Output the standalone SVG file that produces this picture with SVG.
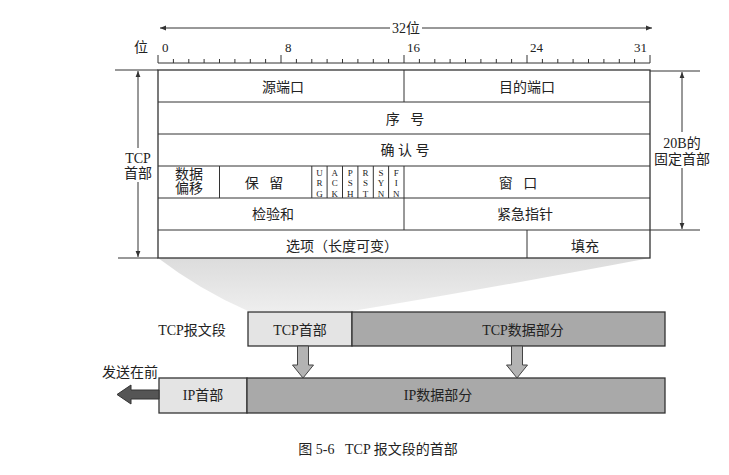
<svg xmlns="http://www.w3.org/2000/svg" width="729" height="475" viewBox="0 0 729 475">
<style>
.t{font-family:"Liberation Serif","Noto Sans CJK SC",serif;font-size:14px;fill:#222;text-anchor:middle}
.n{font-family:"Liberation Serif",serif;font-size:13px;fill:#222}
.f{font-family:"Liberation Serif",serif;font-size:9px;fill:#222;text-anchor:middle}
.ln{stroke:#333;stroke-width:1;fill:none}
.bx{stroke:#333;stroke-width:1.3}
</style>
<defs>
<marker id="ah" viewBox="0 0 10 10" refX="10" refY="5" markerWidth="8" markerHeight="6" orient="auto-start-reverse" markerUnits="userSpaceOnUse"><path d="M0,1 L10,5 L0,9 z" fill="#333"/></marker>
<linearGradient id="fan" x1="0" y1="0" x2="0" y2="1"><stop offset="0" stop-color="#dcdcdc"/><stop offset="1" stop-color="#eeeeee"/></linearGradient>
</defs>
<rect width="729" height="475" fill="#fff"/>

<g id="fan-shape">
<path d="M158,258 L650,258 Q480,290 352,311 L248,311 Q200,290 158,258 z" fill="url(#fan)"/>
</g>

<g id="ruler">
<line class="ln" x1="158" y1="63" x2="650" y2="63"/>
<path class="ln" d="M158,55V63M173.4,59V63M188.8,59V63M204.1,59V63M219.5,59V63M234.9,59V63M250.3,59V63M265.6,59V63M281,55V63M296.4,59V63M311.8,59V63M327.1,59V63M342.5,59V63M357.9,59V63M373.3,59V63M388.6,59V63M404,55V63M419.4,59V63M434.8,59V63M450.1,59V63M465.5,59V63M480.9,59V63M496.3,59V63M511.6,59V63M527,55V63M542.4,59V63M557.8,59V63M573.1,59V63M588.5,59V63M603.9,59V63M619.3,59V63M634.6,59V63M650,55V63"/>
<text class="t" x="141" y="52">位</text>
<text class="n" x="162" y="52">0</text>
<text class="n" x="285" y="52">8</text>
<text class="n" x="407" y="52">16</text>
<text class="n" x="530" y="52">24</text>
<text class="n" x="647" y="52" text-anchor="end">31</text>
<line class="ln" x1="390" y1="28" x2="160" y2="28" marker-end="url(#ah)"/>
<line class="ln" x1="422" y1="28" x2="652" y2="28" marker-end="url(#ah)"/>
<text class="t" x="406" y="33">32位</text>
</g>

<g id="header-table">
<rect class="bx" x="158" y="70" width="492" height="188" fill="#fff"/>
<path class="ln" d="M158,102H650M158,134H650M158,166H650M158,198H650M158,230H650M404,70V102M404,166V230M527,230V258M219.5,166V198M311.8,166V198M327.1,166V198M342.5,166V198M357.9,166V198M373.3,166V198M388.6,166V198"/>
<text class="t" x="283" y="92">源端口</text>
<text class="t" x="527" y="92">目的端口</text>
<text class="t" x="405" y="124" xml:space="preserve">序   号</text>
<text class="t" x="405" y="155" xml:space="preserve">确 认 号</text>
<text class="t" x="189" y="179">数据</text>
<text class="t" x="189" y="193">偏移</text>
<text class="t" x="264" y="188" xml:space="preserve">保   留</text>
<g class="f">
<text x="319.4" y="175.5">U</text><text x="319.4" y="186">R</text><text x="319.4" y="196.5">G</text>
<text x="334.8" y="175.5">A</text><text x="334.8" y="186">C</text><text x="334.8" y="196.5">K</text>
<text x="350.2" y="175.5">P</text><text x="350.2" y="186">S</text><text x="350.2" y="196.5">H</text>
<text x="365.6" y="175.5">R</text><text x="365.6" y="186">S</text><text x="365.6" y="196.5">T</text>
<text x="381" y="175.5">S</text><text x="381" y="186">Y</text><text x="381" y="196.5">N</text>
<text x="396.3" y="175.5">F</text><text x="396.3" y="186">I</text><text x="396.3" y="196.5">N</text>
</g>
<text class="t" x="518" y="188" xml:space="preserve">窗   口</text>
<text class="t" x="273" y="219">检验和</text>
<text class="t" x="525" y="219">紧急指针</text>
<text class="t" x="342" y="251">选项（长度可变）</text>
<text class="t" x="585" y="251">填充</text>
</g>

<g id="tcp-header-label">
<path class="ln" d="M115,70H158M118,258H158"/>
<line class="ln" x1="138" y1="148" x2="138" y2="71" marker-end="url(#ah)"/>
<line class="ln" x1="138" y1="182" x2="138" y2="257" marker-end="url(#ah)"/>
<text class="t" x="138" y="163">TCP</text>
<text class="t" x="138" y="178">首部</text>
</g>

<g id="fixed-header-label">
<path class="ln" d="M650,71H700M650,230H700"/>
<line class="ln" x1="682" y1="132" x2="682" y2="72" marker-end="url(#ah)"/>
<line class="ln" x1="682" y1="168" x2="682" y2="229" marker-end="url(#ah)"/>
<text class="t" x="682" y="148">20B的</text>
<text class="t" x="682" y="164">固定首部</text>
</g>

<g id="tcp-segment">
<text class="t" x="192" y="335">TCP报文段</text>
<rect class="bx" x="248" y="312" width="104" height="34" fill="#e4e4e4"/>
<rect class="bx" x="352" y="312" width="313" height="34" fill="#a9a9a9"/>
<text class="t" x="300" y="335">TCP首部</text>
<text class="t" x="523" y="335">TCP数据部分</text>
</g>

<g id="ip-datagram">
<rect class="bx" x="159" y="378" width="88" height="35" fill="#e4e4e4"/>
<rect class="bx" x="247" y="378" width="418" height="35" fill="#a9a9a9"/>
<text class="t" x="203" y="400">IP首部</text>
<text class="t" x="438" y="400">IP数据部分</text>
<text class="t" x="130" y="377">发送在前</text>
</g>

<g id="connectors">
<path d="M297.5,346H308.5V365H313.5L303,378L292.5,365H297.5z" fill="#b3b3b3" stroke="#444" stroke-width="1"/>
<path d="M511.5,346H522.5V365H527.5L517,378L506.5,365H511.5z" fill="#b3b3b3" stroke="#444" stroke-width="1"/>
<path d="M159,390H131V385L117,394.5L131,404V399H159z" fill="#555" stroke="#333" stroke-width="1"/>
</g>

<g id="caption">
<text class="t" x="378" y="454" font-size="15" xml:space="preserve">图 5-6   TCP 报文段的首部</text>
</g>
</svg>
